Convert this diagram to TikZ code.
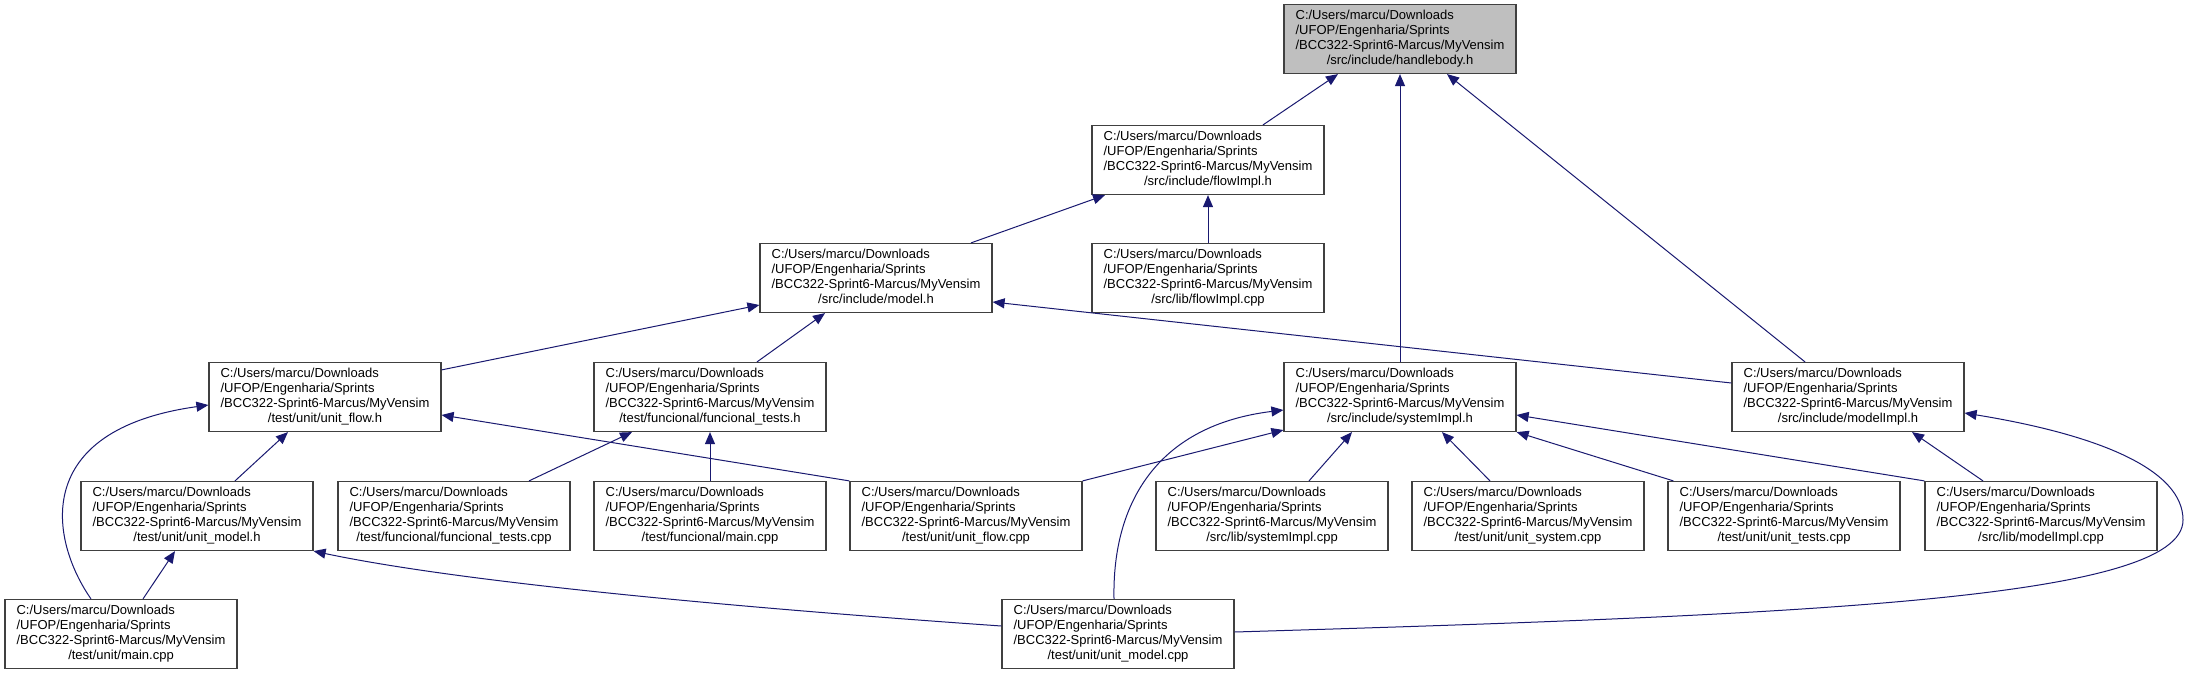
\documentclass[tikz,border=0pt]{standalone}
\usepackage{fontspec}
\setmainfont{Liberation Sans}
\usetikzlibrary{arrows.meta}
\definecolor{edgeblue}{HTML}{191970}
\definecolor{boxline}{HTML}{404040}
\definecolor{rootfill}{HTML}{BFBFBF}
\newcommand{\pathlabel}[1]{\begin{tabular}{@{}l@{}}C:/Users/marcu/Downloads\\/UFOP/Engenharia/Sprints\\/BCC322-Sprint6-Marcus/MyVensim\\\multicolumn{1}{@{}c@{}}{#1}\end{tabular}}
\begin{document}
\begin{tikzpicture}[x=1pt,y=-1pt,
  filebox/.style={draw=boxline, line width=1.2pt, fill=white, minimum width=232pt, minimum height=69pt, inner sep=0pt, font=\fontsize{13}{15}\selectfont},
  rootbox/.style={filebox, fill=rootfill},
  edge/.style={draw=edgeblue, line width=1pt, -{Triangle[length=12pt,width=10pt]}}]
\fill[white] (0,0) rectangle (2189,675);
\useasboundingbox (0,0) rectangle (2189,675);

\node[rootbox] (hb) at (1400,39) {\pathlabel{/src/include/handlebody.h}};
\node[filebox] (flowh) at (1208,160) {\pathlabel{/src/include/flowImpl.h}};
\node[filebox] (modelh) at (876,278) {\pathlabel{/src/include/model.h}};
\node[filebox] (flowcpp) at (1208,278) {\pathlabel{/src/lib/flowImpl.cpp}};
\node[filebox] (unitflowh) at (325,397) {\pathlabel{/test/unit/unit\_flow.h}};
\node[filebox] (functh) at (710,397) {\pathlabel{/test/funcional/funcional\_tests.h}};
\node[filebox] (sysh) at (1400,397) {\pathlabel{/src/include/systemImpl.h}};
\node[filebox] (modelimplh) at (1848,397) {\pathlabel{/src/include/modelImpl.h}};
\node[filebox] (unitmodelh) at (197,516) {\pathlabel{/test/unit/unit\_model.h}};
\node[filebox] (functcpp) at (454,516) {\pathlabel{/test/funcional/funcional\_tests.cpp}};
\node[filebox] (funcmain) at (710,516) {\pathlabel{/test/funcional/main.cpp}};
\node[filebox] (unitflowcpp) at (966,516) {\pathlabel{/test/unit/unit\_flow.cpp}};
\node[filebox] (syscpp) at (1272,516) {\pathlabel{/src/lib/systemImpl.cpp}};
\node[filebox] (unitsys) at (1528,516) {\pathlabel{/test/unit/unit\_system.cpp}};
\node[filebox] (unittests) at (1784,516) {\pathlabel{/test/unit/unit\_tests.cpp}};
\node[filebox] (modelimplcpp) at (2041,516) {\pathlabel{/src/lib/modelImpl.cpp}};
\node[filebox] (unitmain) at (121,634) {\pathlabel{/test/unit/main.cpp}};
\node[filebox] (unitmodelcpp) at (1118,634) {\pathlabel{/test/unit/unit\_model.cpp}};

\draw[edge] ([xshift=55pt]flowh.north) -- ([xshift=-62pt]hb.south);
\draw[edge] (sysh.north) -- (hb.south);
\draw[edge] ([xshift=-43pt]modelimplh.north) -- ([xshift=47pt]hb.south);
\draw[edge] ([xshift=95pt]modelh.north) -- ([xshift=-103pt]flowh.south);
\draw[edge] (flowcpp.north) -- (flowh.south);
\draw[edge] ([yshift=-8pt]unitflowh.north east) -- ([yshift=-27pt]modelh.west);
\draw[edge] ([xshift=47pt]functh.north) -- ([xshift=-51pt]modelh.south);
\draw[edge] ([yshift=14pt]modelimplh.west) -- ([yshift=-24pt]modelh.east);
\draw[edge] ([xshift=38pt]unitmodelh.north) -- ([xshift=-37pt]unitflowh.south);
\draw[edge] ([xshift=-30pt]unitmain.north) .. controls (50,540) and (30,430) .. ([yshift=-8pt]unitflowh.west);
\draw[edge] ([xshift=22pt]unitmain.north) -- ([xshift=-22pt]unitmodelh.south);
\draw[edge] (unitflowcpp.north west) -- ([yshift=-18pt]unitflowh.east);
\draw[edge] ([xshift=75pt]functcpp.north) -- ([xshift=-78pt]functh.south);
\draw[edge] (funcmain.north) -- (functh.south);
\draw[edge] (unitflowcpp.north east) -- ([yshift=-33pt]sysh.west);
\draw[edge] ([xshift=-4pt]unitmodelcpp.north) .. controls (1112,500) and (1160,425) .. ([yshift=-13pt]sysh.west);
\draw[edge] ([xshift=37pt]syscpp.north) -- ([xshift=-48pt]sysh.south);
\draw[edge] ([xshift=-38pt]unitsys.north) -- ([xshift=42pt]sysh.south);
\draw[edge] ([xshift=6pt]unittests.north west) -- (sysh.south east);
\draw[edge] (modelimplcpp.north west) -- ([yshift=-18pt]sysh.east);
\draw[edge] ([xshift=-58pt]modelimplcpp.north) -- ([xshift=64pt]modelimplh.south);
\draw[edge] ([yshift=2pt]unitmodelcpp.east) .. controls (1800,615) and (2183,600) .. (2183,520) .. controls (2183,470) and (2100,435) .. ([yshift=-16pt]modelimplh.east);
\draw[edge] ([yshift=8pt]unitmodelcpp.west) .. controls (700,605) and (450,580) .. (unitmodelh.south east);
\end{tikzpicture}
\end{document}
